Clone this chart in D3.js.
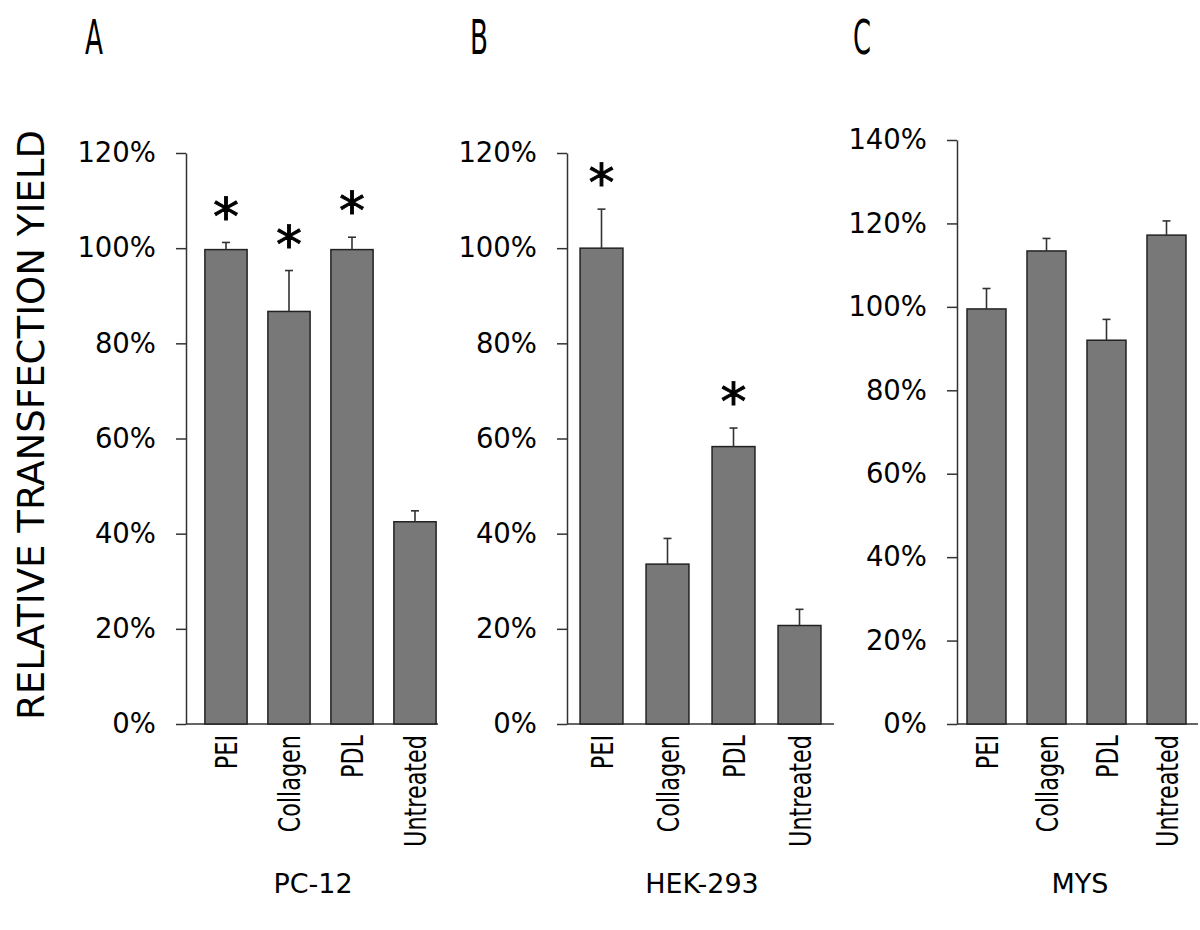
<!DOCTYPE html>
<html>
<head>
<meta charset="utf-8">
<script src="https://cdn.jsdelivr.net/npm/d3@7"></script>
<style>
  html, body { margin: 0; padding: 0; background: #fff; }
  svg { display: block; }
  text { font-family: "DejaVu Sans", sans-serif; fill: #000; }
</style>
</head>
<body>
<svg id="chart" width="1200" height="930"></svg>
<script>
// ---- data ----
const panelLetters = ["A", "B", "C"];
const cellLines = ["PC-12", "HEK-293", "MYS"];
const categories = ["PEI", "Collagen", "PDL", "Untreated"];

const valuesA = [99.7, 86.7, 99.7, 42.5];
const errorsA = [1.5, 8.6, 2.6, 2.3];
const sigA = [true, true, true, false];

const valuesB = [100.0, 33.6, 58.3, 20.7];
const errorsB = [8.2, 5.4, 3.9, 3.4];
const sigB = [true, false, true, false];

const valuesC = [99.5, 113.4, 92.0, 117.2];
const errorsC = [4.9, 3.0, 5.0, 3.4];
const sigC = [false, false, false, false];

const yMaxes = [120, 120, 140];
const yTickSteps = [20, 20, 20];
const yTitle = "RELATIVE TRANSFECTION YIELD";

// ---- layout ----
const layout = [
  { axisX: 186, xEnd: 438, band: [194.5, 446.5], pad: 0.33, top: 153, bottom: 724, letterX: 85, titleX: 313 },
  { axisX: 567, xEnd: 834, band: [568.5, 832.5], pad: 0.35, top: 153, bottom: 724, letterX: 470, titleX: 702 },
  { axisX: 957, xEnd: 1198, band: [956.5, 1196.5], pad: 0.35, top: 140, bottom: 724, letterX: 853, titleX: 1080 }
];
const seriesValues = [valuesA, valuesB, valuesC];
const seriesErrors = [errorsA, errorsB, errorsC];
const seriesSig = [sigA, sigB, sigC];

const svg = d3.select("#chart");

// y-axis title
svg.append("text")
  .attr("transform", "translate(44,425) rotate(-90)")
  .attr("text-anchor", "middle")
  .attr("font-size", 38)
  .attr("textLength", 590)
  .attr("lengthAdjust", "spacingAndGlyphs")
  .text(yTitle);

layout.forEach((L, p) => {
  const g = svg.append("g");
  const vals = seriesValues[p], errs = seriesErrors[p], sig = seriesSig[p];
  const data = categories.map((c, i) => ({ c, v: vals[i], e: errs[i], s: sig[i] }));

  const x = d3.scaleBand().domain(categories).range(L.band)
    .paddingInner(L.pad).paddingOuter(L.pad / 2);
  const y = d3.scaleLinear().domain([0, yMaxes[p]]).range([L.bottom, L.top]);

  // panel letter
  svg.append("text")
    .attr("x", L.letterX).attr("y", 54)
    .attr("font-size", 48)
    .attr("textLength", 18)
    .attr("lengthAdjust", "spacingAndGlyphs")
    .text(panelLetters[p]);

  // y axis
  const yAxis = d3.axisLeft(y)
    .tickValues(d3.range(0, yMaxes[p] + 0.001, yTickSteps[p]))
    .tickFormat(d => d + "%")
    .tickSize(10).tickPadding(20).tickSizeOuter(0);
  const ya = g.append("g").attr("transform", `translate(${L.axisX},0)`).call(yAxis);
  ya.select(".domain").attr("stroke", "#333").attr("stroke-width", 1.5);
  ya.selectAll(".tick line").attr("stroke", "#333").attr("stroke-width", 1.5);
  ya.selectAll(".tick text").attr("font-size", 27.5).attr("font-family", "DejaVu Sans").attr("fill", "#000");

  // x baseline
  g.append("line")
    .attr("x1", L.axisX).attr("x2", L.xEnd)
    .attr("y1", y(0)).attr("y2", y(0))
    .attr("stroke", "#333").attr("stroke-width", 1.5);

  // bars
  g.selectAll("rect.bar").data(data).join("rect")
    .attr("class", "bar")
    .attr("x", d => x(d.c))
    .attr("width", x.bandwidth())
    .attr("y", d => y(d.v))
    .attr("height", d => y(0) - y(d.v))
    .attr("fill", "#787878")
    .attr("stroke", "#222")
    .attr("stroke-width", 1.5);

  // error bars (upper only)
  const eb = g.selectAll("g.err").data(data).join("g").attr("class", "err");
  eb.append("line")
    .attr("x1", d => x(d.c) + x.bandwidth() / 2)
    .attr("x2", d => x(d.c) + x.bandwidth() / 2)
    .attr("y1", d => y(d.v))
    .attr("y2", d => y(d.v + d.e))
    .attr("stroke", "#333").attr("stroke-width", 1.6);
  eb.append("line")
    .attr("x1", d => x(d.c) + x.bandwidth() / 2 - 4)
    .attr("x2", d => x(d.c) + x.bandwidth() / 2 + 4)
    .attr("y1", d => y(d.v + d.e))
    .attr("y2", d => y(d.v + d.e))
    .attr("stroke", "#333").attr("stroke-width", 1.6);

  // significance stars
  g.selectAll("text.star").data(data.filter(d => d.s)).join("text")
    .attr("class", "star")
    .attr("x", d => x(d.c) + x.bandwidth() / 2)
    .attr("y", d => y(d.v + d.e) - 38 + 0.58 * 52)
    .attr("text-anchor", "middle")
    .attr("font-size", 52)
    .attr("stroke", "#000").attr("stroke-width", 0.9)
    .text("*");

  // category labels (rotated, condensed)
  g.selectAll("text.cat").data(categories).join("text")
    .attr("class", "cat")
    .attr("transform", d => `translate(${x(d) + x.bandwidth() / 2 + 11},${L.bottom + 11}) rotate(-90) scale(0.72,1)`)
    .attr("text-anchor", "end")
    .attr("font-size", 31)
    .text(d => d);

  // cell line title
  svg.append("text")
    .attr("x", L.titleX).attr("y", 893)
    .attr("text-anchor", "middle")
    .attr("font-size", 27)
    .text(cellLines[p]);
});
</script>
</body>
</html>
